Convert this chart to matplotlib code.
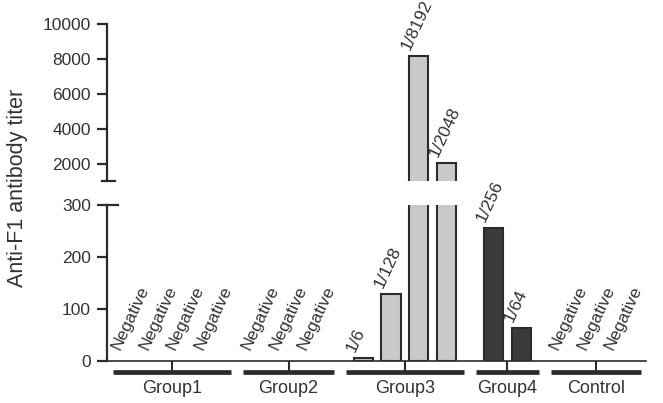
import matplotlib
matplotlib.use('Agg')
import matplotlib.pyplot as plt

plt.rcParams['font.family'] = ['Liberation Sans', 'DejaVu Sans']

groups = ['Group1', 'Group2', 'Group3', 'Group4', 'Control']
group_sizes = [4, 3, 4, 2, 3]
titers = [0, 0, 0, 0, 0, 0, 0, 6, 128, 8192, 2048, 256, 64, 0, 0, 0]
bar_labels = ['Negative'] * 7 + ['1/6', '1/128', '1/8192', '1/2048', '1/256', '1/64'] + ['Negative'] * 3
low_ticks = [0, 100, 200, 300]
high_ticks = [2000, 4000, 6000, 8000, 10000]

ink = '#2b2b2b'
light = '#c9c9c9'
dark = '#3b3b3b'

# bar positions: one unit per bar, a gap between groups
pos, centers, spans, colors = [], [], [], []
start = 0.0
for g, n in zip(groups, group_sizes):
    p = [start + i for i in range(n)]
    pos += p
    centers.append((p[0] + p[-1]) / 2)
    spans.append((p[0] - 0.63, p[-1] + 0.63))
    colors += [dark if g == 'Group4' else light] * n
    start = p[-1] + 1.7

fig = plt.figure(figsize=(6.63, 4.03), dpi=100)
ax_hi = fig.add_axes([0.1614, 0.5509, 0.8130, 0.3896])
ax_lo = fig.add_axes([0.1614, 0.1042, 0.8130, 0.3871])

w = 0.7
for ax in (ax_hi, ax_lo):
    for x, v, c in zip(pos, titers, colors):
        if v > 0:
            ax.bar(x, v, width=w, color=c, edgecolor=ink, linewidth=1.5)
    ax.set_xlim(-0.85, 18.6)
    for s in ['top', 'right']:
        ax.spines[s].set_visible(False)
    ax.spines['left'].set_linewidth(1.6)
    ax.spines['left'].set_color(ink)
    ax.tick_params(axis='y', direction='out', length=7.5, width=1.6, color=ink,
                   labelsize=12.5, labelcolor='#333333', pad=4)

ax_hi.set_ylim(1000, 10000)
ax_hi.set_yticks(high_ticks)
ax_hi.spines['bottom'].set_visible(False)
ax_hi.set_xticks([])
ax_hi.plot([-0.01, 0.015], [0, 0], transform=ax_hi.transAxes, color=ink, lw=1.6, clip_on=False)

ax_lo.set_ylim(0, 300)
ax_lo.set_yticks(low_ticks)
ax_lo.spines['bottom'].set_linewidth(1.2)
ax_lo.spines['bottom'].set_color(ink)
ax_lo.plot([0, 0.02], [1, 1], transform=ax_lo.transAxes, color=ink, lw=1.6, clip_on=False)
ax_lo.set_xticks(centers)
ax_lo.set_xticklabels(groups)
ax_lo.tick_params(axis='x', direction='out', length=8, width=1.5, color=ink,
                  labelsize=13, labelcolor='#333333', pad=6)

# group brackets under the axis
tr = ax_lo.get_xaxis_transform()
for a, b in spans:
    ax_lo.plot([a, b], [-0.07, -0.07], transform=tr, color=ink, lw=3.4,
               solid_capstyle='butt', clip_on=False)

# rotated titer labels
for x, v, t in zip(pos, titers, bar_labels):
    ax = ax_hi if v > 300 else ax_lo
    off = (-1, 10) if v == 0 else (1, 5)
    ax.annotate(t, xy=(x - w / 2, v), xytext=off, textcoords='offset pixels',
                rotation=65, rotation_mode='anchor', ha='left', va='baseline',
                fontsize=12.5, color='#333333', annotation_clip=False)

fig.text(18 / 663, 1 - 188 / 403, 'Anti-F1 antibody titer', rotation=90,
         ha='center', va='center', fontsize=15.5, color='#333333')

fig.savefig('out.png', dpi=100)
